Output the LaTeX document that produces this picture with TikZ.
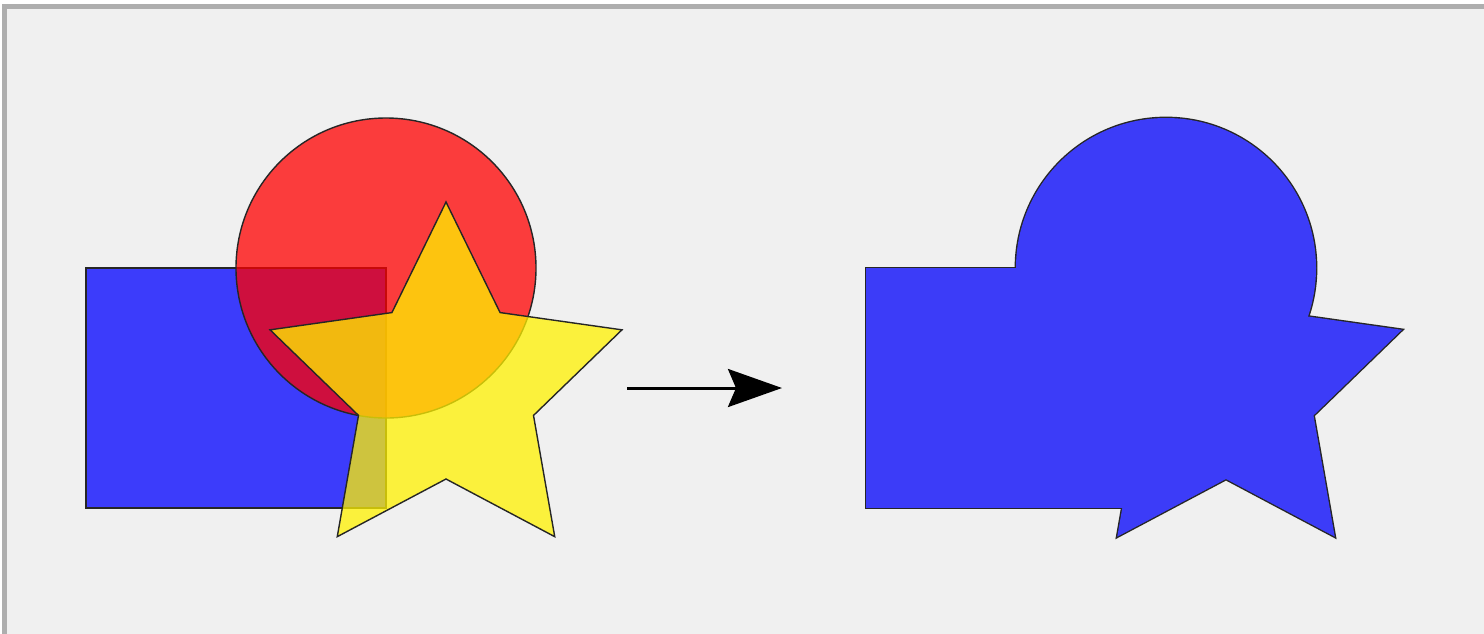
\documentclass[tikz,border=0pt]{standalone}
\usetikzlibrary{arrows.meta}
\definecolor{bgcol}{RGB}{240,240,240}
\definecolor{framecol}{RGB}{174,174,174}
\definecolor{shapeblue}{RGB}{0,0,255}
\definecolor{unionblue}{RGB}{60,60,248}
\tikzset{
  seethru/.style={draw=black!85, line width=1.4pt, fill opacity=0.75, line join=miter},
  unionedge/.style={draw=black!85, line width=2.8pt, line join=miter},
  unionfill/.style={fill=unionblue, draw=none},
  bigarrow/.style={line width=3pt, -{Stealth[length=54pt,width=38pt,inset=8pt]}},
}
\begin{document}
\begin{tikzpicture}[x=1pt,y=-1pt]
\useasboundingbox (0,0) rectangle (1484,633);
\fill[white] (0,0) rectangle (1484,633);
\fill[framecol] (2,4) rectangle (1490,640);
\fill[bgcol] (6.7,8.7) rectangle (1490,640);

% left: three overlapping translucent shapes
\path[seethru, fill=shapeblue] (86,268) rectangle (386,508);
\path[seethru, fill=red] (386,268) circle[radius=150];
\path[seethru, fill=yellow, shift={(446,387)}]
  (-90:185) -- (-54:92) -- (-18:185) -- (18:92) -- (54:185) -- (90:92)
  -- (126:185) -- (162:92) -- (198:185) -- (234:92) -- cycle;

% arrow
\coordinate (a1) at (627,388);
\coordinate (a2) at (782,388);
\draw[bigarrow] (a1) -- (a2);

% right: union of the shapes
\path[unionedge] (866,268) rectangle (1166,508);
\path[unionedge] (1166,268) circle[radius=150];
\path[unionedge, shift={(1226,387)}]
  (-90:185) -- (-54:92) -- (-18:185) -- (18:92) -- (54:185) -- (90:92)
  -- (126:185) -- (162:92) -- (198:185) -- (234:92) -- cycle;
\path[unionfill] (866,268) rectangle (1166,508);
\path[unionfill] (1166,268) circle[radius=150];
\path[unionfill, shift={(1226,387)}]
  (-90:185) -- (-54:92) -- (-18:185) -- (18:92) -- (54:185) -- (90:92)
  -- (126:185) -- (162:92) -- (198:185) -- (234:92) -- cycle;
\end{tikzpicture}
\end{document}
